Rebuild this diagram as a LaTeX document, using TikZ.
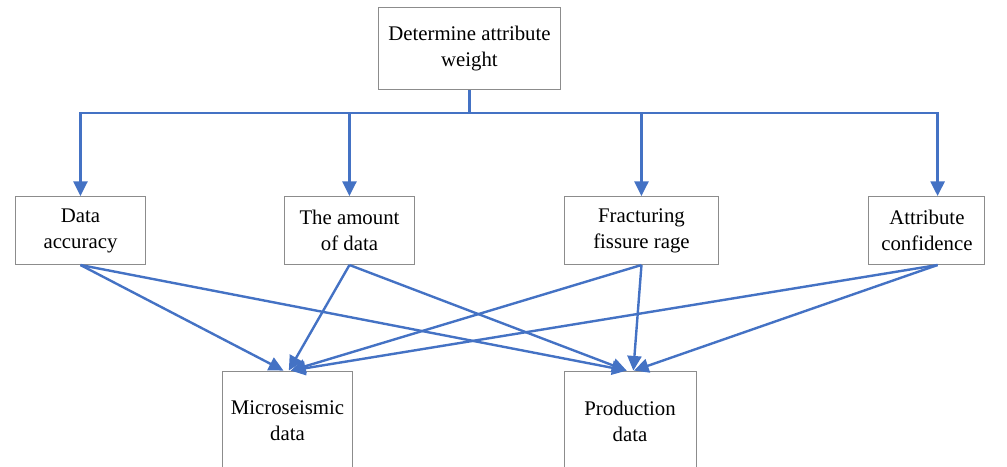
\documentclass[tikz,border=0pt]{standalone}
\usepackage{fontspec}
\setmainfont{Liberation Serif}
\usetikzlibrary{arrows.meta}
\definecolor{lineblue}{HTML}{4472C4}
\tikzstyle{box} = [rectangle, 
minimum height=51pt, 
text centered, 
align=center, 
draw=black!45, 
line width=0.7pt, 
font=\fontsize{15.6}{19.5}\selectfont]
\tikzstyle{link} = [line width=1.8pt, draw=lineblue]
\tikzstyle{arrow} = [link, -{Triangle[length=11pt,width=10.5pt]}]

\begin{document}
\begin{tikzpicture}[node distance=136.5pt]
  \useasboundingbox (0,0) rectangle (755.25pt,-350.25pt);
  \clip (0,0) rectangle (755.25pt,-350.25pt);
  
  \node (weight) [box, minimum width=137pt, minimum height=62pt] at (352.1pt,-36.4pt) {Determine attribute\\weight};
  
  \node (accuracy) [box, minimum width=98pt, below of=weight, xshift=-291.75pt] {Data\\accuracy};
  \node (amount) [box, minimum width=98pt, below of=weight, xshift=-90pt] {The amount\\of data};
  \node (fissure) [box, minimum width=116pt, below of=weight, xshift=129pt] {Fracturing\\fissure rage};
  \node (confidence) [box, minimum width=87pt, below of=weight, xshift=343.1pt] {Attribute\\confidence};
  
  \node (micro) [box, node distance=142.9pt, minimum width=98pt, minimum height=75pt, below of=amount, xshift=-46.5pt] {Microseismic\\data};
  \node (prod) [box, node distance=142.9pt, minimum width=99pt, minimum height=75pt, below of=fissure, xshift=-8.6pt] {Production\\data};
  
  \draw [link] (weight.south) -- ++(0,-16.9pt) coordinate (bus);
  \draw [arrow] (bus) -| (accuracy.north);
  \draw [arrow] (bus) -| (amount.north);
  \draw [arrow] (bus) -| (fissure.north);
  \draw [arrow] (bus) -| ([xshift=8pt]confidence.north);
  
  \draw [arrow] (accuracy.south) -- ([xshift=-3pt]micro.north);
  \draw [arrow] (accuracy.south) -- ([xshift=-2.5pt]prod.north);
  \draw [arrow] (amount.south) -- ([xshift=1pt]micro.north);
  \draw [arrow] (amount.south) -- ([xshift=-2.5pt]prod.north);
  \draw [arrow] (fissure.south) -- ([xshift=2.5pt]micro.north);
  \draw [arrow] (fissure.south) -- ([xshift=2.5pt]prod.north);
  \draw [arrow] ([xshift=8pt]confidence.south) -- ([xshift=2.5pt]micro.north);
  \draw [arrow] ([xshift=8pt]confidence.south) -- ([xshift=3pt]prod.north);
  
\end{tikzpicture}
\end{document}
